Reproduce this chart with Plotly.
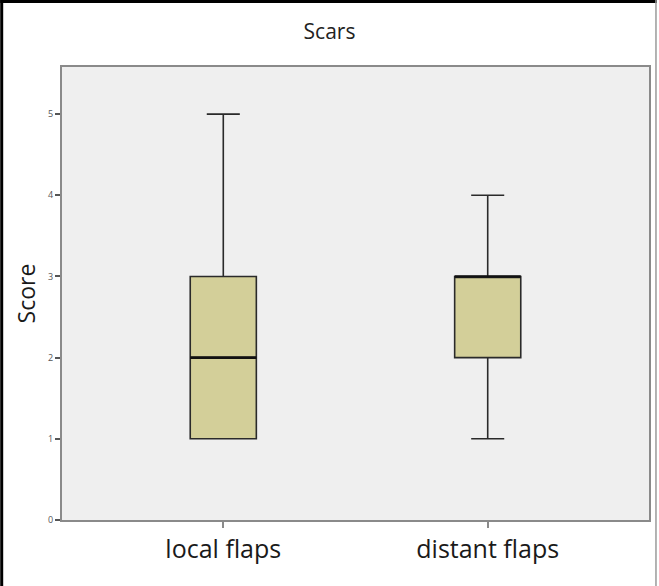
import plotly.graph_objects as go

# Scar scores by flap type (five-number summaries)
groups = ["local flaps", "distant flaps"]
lower_whisker = [1, 1]
q1 = [1, 2]
median = [2, 3]
q3 = [3, 3]
upper_whisker = [5, 4]
y_ticks = [0, 1, 2, 3, 4, 5]

W, H = 659, 586
ML, MR, MT, MB = 62, 8, 67, 66
PW, PH = W - ML - MR, H - MT - MB

BOX_FILL = "#d3cf99"
AXIS_GRAY = "#8a8a8a"
FONT = "Open Sans, Noto Sans, sans-serif"

fig = go.Figure()
positions = list(range(len(groups)))
box_w = 0.25

fig.add_trace(go.Box(
    x=positions,
    q1=q1, median=median, q3=q3,
    lowerfence=lower_whisker, upperfence=upper_whisker,
    fillcolor=BOX_FILL,
    line=dict(color="#2a2a2a", width=1.6),
    whiskerwidth=0.5,
    width=box_w,
    boxpoints=False,
    hoverinfo="skip",
    showlegend=False,
))

# heavier median bars
for i, m in zip(positions, median):
    fig.add_trace(go.Scatter(
        x=[i - box_w / 2, i + box_w / 2], y=[m, m],
        mode="lines", line=dict(color="#111111", width=2.6),
        hoverinfo="skip", showlegend=False,
    ))

def px_x(p):
    return (p - ML) / PW

def px_y(p):
    return (H - MB - p) / PH

shapes = [
    # outer frame of the figure
    dict(type="line", xref="paper", yref="paper", x0=px_x(1.5), x1=px_x(1.5),
         y0=px_y(0), y1=px_y(H), line=dict(color="black", width=3)),
    dict(type="line", xref="paper", yref="paper", x0=px_x(0), x1=px_x(W),
         y0=px_y(1.5), y1=px_y(1.5), line=dict(color="black", width=3)),
    dict(type="line", xref="paper", yref="paper", x0=px_x(658), x1=px_x(658),
         y0=px_y(0), y1=px_y(H), line=dict(color="#9a9a9a", width=1.5)),
]

fig.update_layout(
    width=W, height=H,
    margin=dict(l=ML, r=MR, t=MT, b=MB),
    paper_bgcolor="white",
    plot_bgcolor="#efefef",
    title=dict(text="Scars", x=0.5, xref="container", xanchor="center",
               y=1 - 32 / H, yref="container", yanchor="middle",
               font=dict(family=FONT, size=21, color="#222222")),
    shapes=shapes,
    xaxis=dict(
        range=[-0.61, 1.61], tickmode="array", tickvals=positions, ticktext=groups,
        showgrid=False, zeroline=False,
        showline=True, linecolor=AXIS_GRAY, linewidth=2, mirror=True,
        ticks="outside", ticklen=6, tickwidth=1.5, tickcolor=AXIS_GRAY,
        tickfont=dict(family=FONT, size=25, color="#1a1a1a"),
    ),
    yaxis=dict(
        range=[0, 5.58], tickmode="array", tickvals=y_ticks,
        showgrid=False, zeroline=False,
        showline=True, linecolor=AXIS_GRAY, linewidth=2, mirror=True,
        ticks="outside", ticklen=5, tickwidth=1.5, tickcolor="#555555",
        tickfont=dict(family=FONT, size=9, color="#555555"),
        title=dict(text="Score", standoff=6,
                   font=dict(family=FONT, size=23, color="#1a1a1a")),
    ),
)

fig.write_html("out.html")
